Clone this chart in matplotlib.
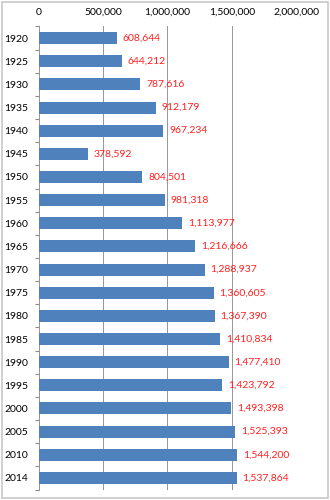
import matplotlib
matplotlib.use("Agg")
import matplotlib.pyplot as plt
from matplotlib.ticker import FuncFormatter
from matplotlib.patches import Rectangle
import numpy as np

years = ["1920", "1925", "1930", "1935", "1940", "1945", "1950", "1955", "1960", "1965",
         "1970", "1975", "1980", "1985", "1990", "1995", "2000", "2005", "2010", "2014"]
population = [608644, 644212, 787616, 912179, 967234, 378592, 804501, 981318, 1113977, 1216666,
              1288937, 1360605, 1367390, 1410834, 1477410, 1423792, 1493398, 1525393, 1544200, 1537864]
x_ticks = [0, 500000, 1000000, 1500000, 2000000]

plt.rcParams['font.family'] = ['Lato', 'DejaVu Sans']

fig = plt.figure(figsize=(3.3, 5.0), dpi=100)
fig.patches.append(Rectangle((0.006, 0.004), 0.988, 0.992, transform=fig.transFigure,
                             fill=False, edgecolor="#c8c8c8", linewidth=1.2))
ax = fig.add_axes([0.118, 0.021, 0.779, 0.926])

pos = np.arange(len(years))
ax.barh(pos, population, height=0.52, color="#4f81bd", zorder=3)
for p, v in zip(pos, population):
    ax.text(v + 45000, p, f"{v:,}", color="#ff2020", va="center", ha="left",
            fontsize=7.5, zorder=4)

ax.set_xlim(0, 2000000)
ax.set_ylim(len(years) - 0.5, -0.5)
ax.set_xticks(x_ticks)
ax.xaxis.set_major_formatter(FuncFormatter(lambda v, _: f"{int(v):,}"))
ax.xaxis.tick_top()
ax.tick_params(axis="x", length=0, labelsize=7.5, pad=7, colors="#000000")
ax.set_yticks(pos)
ax.set_yticklabels(years)
ax.tick_params(axis="y", length=0, labelsize=7.5, pad=8)
ax.set_yticks(np.arange(-0.5, len(years), 1.0), minor=True)
ax.tick_params(axis="y", which="minor", length=3, color="#8c8c8c", width=0.8)
ax.grid(axis="x", color="#969696", linewidth=0.7, zorder=0)
for s in ["top", "right", "bottom"]:
    ax.spines[s].set_visible(False)
ax.spines["left"].set_color("#969696")
ax.spines["left"].set_linewidth(0.7)

fig.savefig("out.png", dpi=100)
